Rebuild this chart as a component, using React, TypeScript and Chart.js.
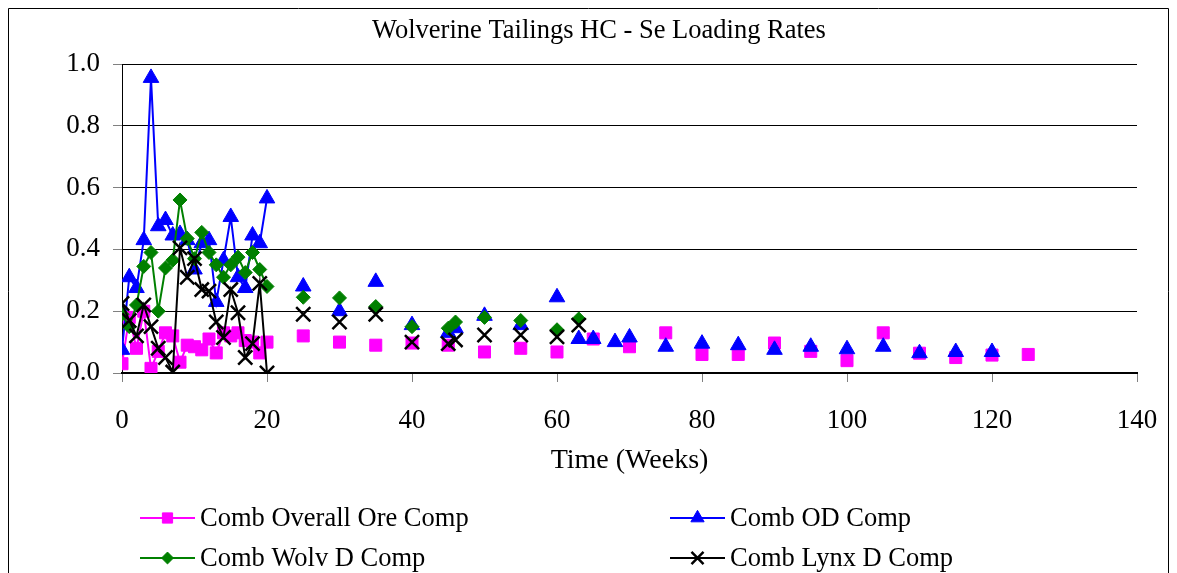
import React, { useEffect, useRef } from "react";
import { Chart, registerables } from "chart.js";

Chart.register(...registerables);

const chartTitle = "Wolverine Tailings HC - Se Loading Rates";
const xAxisTitle = "Time (Weeks)";
const yTicks = [0, 0.2, 0.4, 0.6, 0.8, 1.0];
const xTicks = [0, 20, 40, 60, 80, 100, 120, 140];
const lineCutoffWeek = 20;

const oreWeeks = [0, 1, 2, 3, 4, 5, 6, 7, 8, 9, 10, 11, 12, 13, 14, 15, 16, 17, 18, 19, 20, 25, 30, 35, 40, 45, 50, 55, 60, 65, 70, 75, 80, 85, 90, 95, 100, 105, 110, 115, 120, 125];
const oreValues = [0.03, 0.18, 0.08, 0.2, 0.015, 0.07, 0.13, 0.12, 0.035, 0.09, 0.085, 0.075, 0.11, 0.065, 0.13, 0.12, 0.13, 0.105, 0.1, 0.065, 0.1, 0.12, 0.1, 0.09, 0.097, 0.09, 0.068, 0.08, 0.068, 0.11, 0.085, 0.13, 0.06, 0.06, 0.097, 0.07, 0.04, 0.13, 0.064, 0.05, 0.058, 0.06];

const odWeeks = [0, 1, 2, 3, 4, 5, 6, 7, 8, 9, 10, 11, 12, 13, 14, 15, 16, 17, 18, 19, 20, 25, 30, 35, 40, 45, 46, 50, 55, 60, 63, 65, 68, 70, 75, 80, 85, 90, 95, 100, 105, 110, 115, 120];
const odValues = [0.075, 0.31, 0.275, 0.43, 0.955, 0.475, 0.495, 0.445, 0.45, 0.43, 0.335, 0.42, 0.43, 0.23, 0.365, 0.505, 0.31, 0.275, 0.445, 0.42, 0.565, 0.28, 0.2, 0.295, 0.155, 0.13, 0.145, 0.185, 0.155, 0.245, 0.11, 0.11, 0.1, 0.115, 0.085, 0.095, 0.09, 0.075, 0.085, 0.077, 0.085, 0.064, 0.068, 0.068];

const wolvWeeks = [0, 1, 2, 3, 4, 5, 6, 7, 8, 9, 10, 11, 12, 13, 14, 15, 16, 17, 18, 19, 20, 25, 30, 35, 40, 45, 46, 50, 55, 60, 63];
const wolvValues = [0.19, 0.15, 0.22, 0.345, 0.39, 0.2, 0.34, 0.365, 0.56, 0.435, 0.37, 0.455, 0.39, 0.35, 0.31, 0.35, 0.375, 0.325, 0.39, 0.335, 0.28, 0.245, 0.243, 0.215, 0.15, 0.145, 0.165, 0.18, 0.17, 0.14, 0.175];

const lynxWeeks = [0, 1, 2, 3, 4, 5, 6, 7, 8, 9, 10, 11, 12, 13, 14, 15, 16, 17, 18, 19, 20, 25, 30, 35, 40, 45, 46, 50, 55, 60, 63];
const lynxValues = [0.225, 0.17, 0.12, 0.22, 0.15, 0.08, 0.05, 0.003, 0.405, 0.31, 0.37, 0.27, 0.265, 0.165, 0.115, 0.27, 0.195, 0.05, 0.095, 0.29, 0.0, 0.19, 0.165, 0.19, 0.1, 0.095, 0.107, 0.123, 0.123, 0.117, 0.155];

const FONT = "'Liberation Serif', 'Times New Roman', serif";

function pts(w: number[], v: number[]) {
  return w.map((x, i) => ({ x, y: v[i] }));
}

function makeDataset(label: string, w: number[], v: number[], color: string, style: string, radius: number, order: number, pbw: number) {
  return {
    label,
    data: pts(w, v),
    borderColor: color,
    backgroundColor: color,
    borderWidth: 2,
    pointStyle: style,
    pointRadius: radius,
    pointHoverRadius: radius,
    pointBorderWidth: pbw,
    pointBorderColor: color,
    pointBackgroundColor: color,
    order,
    tension: 0,
    segment: {
      borderColor: (ctx: any) => (ctx.p1.parsed.x > lineCutoffWeek ? "rgba(0,0,0,0)" : color),
    },
  };
}

function drawPointShape(ctx: CanvasRenderingContext2D, style: string, r: number, x: number, y: number) {
  ctx.beginPath();
  if (style === "rect") {
    const s = r * Math.SQRT1_2;
    ctx.rect(x - s, y - s, 2 * s, 2 * s);
    ctx.fill();
    ctx.stroke();
  } else if (style === "triangle") {
    ctx.moveTo(x, y - r);
    ctx.lineTo(x + r * 0.866, y + r * 0.5);
    ctx.lineTo(x - r * 0.866, y + r * 0.5);
    ctx.closePath();
    ctx.fill();
    ctx.stroke();
  } else if (style === "rectRot") {
    ctx.moveTo(x - r, y);
    ctx.lineTo(x, y - r);
    ctx.lineTo(x + r, y);
    ctx.lineTo(x, y + r);
    ctx.closePath();
    ctx.fill();
    ctx.stroke();
  } else if (style === "crossRot") {
    const o = r * Math.SQRT1_2;
    ctx.moveTo(x - o, y - o);
    ctx.lineTo(x + o, y + o);
    ctx.moveTo(x - o, y + o);
    ctx.lineTo(x + o, y - o);
    ctx.stroke();
  }
}

const decorPlugin = {
  id: "decor",
  afterDraw(chart: any) {
    const ctx = chart.ctx;
    const W = chart.width;
    ctx.save();
    ctx.strokeStyle = "#000";
    ctx.lineWidth = 1;
    ctx.beginPath();
    ctx.moveTo(0.5, chart.height + 5);
    ctx.lineTo(0.5, 0.5);
    ctx.lineTo(W - 0.5, 0.5);
    ctx.lineTo(W - 0.5, chart.height + 5);
    ctx.stroke();
    ctx.fillStyle = "#000";
    ctx.font = `26.5px ${FONT}`;
    ctx.textAlign = "center";
    ctx.textBaseline = "middle";
    ctx.fillText(chartTitle, 591, 23);
    const items = chart.data.datasets;
    const cols = [132, 662];
    const rows = [510, 550];
    ctx.font = `26.5px ${FONT}`;
    ctx.textAlign = "left";
    items.forEach((ds: any, i: number) => {
      const x0 = cols[i % 2];
      const y = rows[Math.floor(i / 2)];
      ctx.strokeStyle = ds.borderColor;
      ctx.lineWidth = 2;
      ctx.beginPath();
      ctx.moveTo(x0, y);
      ctx.lineTo(x0 + 55, y);
      ctx.stroke();
      ctx.lineWidth = ds.pointBorderWidth;
      ctx.fillStyle = ds.pointBackgroundColor;
      ctx.strokeStyle = ds.pointBorderColor;
      drawPointShape(ctx, ds.pointStyle, ds.pointRadius * 0.85, x0 + 27.5, y);
      ctx.fillStyle = "#000";
      ctx.textBaseline = "middle";
      ctx.fillText(ds.label, x0 + 60, y + 1);
    });
    ctx.restore();
  },
};

export default function App() {
  const ref = useRef<HTMLCanvasElement>(null);
  useEffect(() => {
    if (!ref.current) return;
    const chart = new Chart(ref.current, {
      type: "line",
      data: {
        datasets: [
          makeDataset("Comb Overall Ore Comp", oreWeeks, oreValues, "#FF00FF", "rect", 8.5, 4, 1),
          makeDataset("Comb OD Comp", odWeeks, odValues, "#0000FF", "triangle", 9, 3, 1),
          makeDataset("Comb Wolv D Comp", wolvWeeks, wolvValues, "#008000", "rectRot", 7, 2, 1),
          makeDataset("Comb Lynx D Comp", lynxWeeks, lynxValues, "#000000", "crossRot", 10, 1, 2.5),
        ] as any,
      },
      options: {
        animation: false,
        responsive: false,
        maintainAspectRatio: false,
        layout: { padding: { left: 0, right: 32, top: 56, bottom: 96 } },
        plugins: {
          legend: { display: false },
          title: { display: false },
          tooltip: { enabled: false },
        },
        scales: {
          x: {
            type: "linear",
            min: 0,
            max: 140,
            afterBuildTicks: (s: any) => {
              s.ticks = xTicks.map((v) => ({ value: v }));
            },
            afterFit: (s: any) => {
              s.height = 104;
              s.paddingRight = 0;
              s.paddingLeft = 0;
            },
            ticks: {
              font: { family: FONT, size: 27 },
              color: "#000",
              padding: 23,
              maxRotation: 0,
            },
            grid: {
              drawOnChartArea: false,
              drawTicks: true,
              tickLength: 9,
              tickColor: "#808080",
            },
            border: { color: "#000", width: 2 },
            title: {
              display: true,
              text: xAxisTitle,
              font: { family: FONT, size: 28 },
              color: "#000",
              padding: { top: 0, bottom: 0 },
            },
          },
          y: {
            type: "linear",
            min: 0,
            max: 1,
            afterBuildTicks: (s: any) => {
              s.ticks = yTicks.map((v) => ({ value: v }));
            },
            afterFit: (s: any) => {
              s.width = 114;
              s.paddingTop = 0;
              s.paddingBottom = 0;
            },
            ticks: {
              font: { family: FONT, size: 27 },
              color: "#000",
              padding: 13,
              callback: (v: any) => Number(v).toFixed(1),
            },
            grid: {
              color: "#000",
              lineWidth: 1,
              tickLength: 9,
              tickColor: "#808080",
            },
            border: { color: "#000", width: 1 },
          },
        },
      },
      plugins: [decorPlugin],
    } as any);
    return () => chart.destroy();
  }, []);
  return (
    <div style={{ width: 1161, height: 565 }}>
      <canvas ref={ref} width={1161} height={565} style={{ display: "block" }} />
    </div>
  );
}
